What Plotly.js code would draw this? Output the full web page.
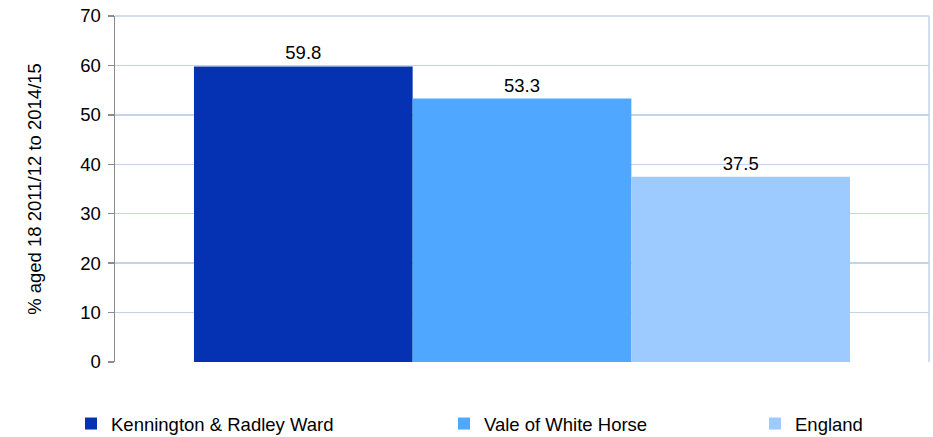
<!DOCTYPE html>
<html>
<head>
<meta charset="utf-8">
<script src="https://cdn.plot.ly/plotly-3.0.1.min.js"></script>
<style>html,body{margin:0;padding:0;background:#fff}#chart{width:933px;height:437px}</style>
</head>
<body>
<div id="chart"></div>
<script>
const seriesNames = ["Kennington & Radley Ward", "Vale of White Horse", "England"];
const seriesValues = [59.8, 53.3, 37.5];
const seriesColors = ["#0432B2", "#4FA7FF", "#9DCAFF"];
const category = [""];
const yTicks = [0, 10, 20, 30, 40, 50, 60, 70];
const yTitle = "% aged 18 2011/12 to 2014/15";

const FONT = "Liberation Sans, Arial, sans-serif";
const FS = 18.5;
const legendIds = ["legend", "legend2", "legend3"];
const legendX = [71, 444, 755];

const traces = seriesNames.map((n, i) => ({
  type: "bar",
  name: n,
  x: category,
  y: [seriesValues[i]],
  marker: {color: seriesColors[i], line: {width: 0}},
  text: [seriesValues[i].toFixed(1)],
  textposition: "outside",
  cliponaxis: false,
  textfont: {family: FONT, size: FS, color: "#000"},
  legend: legendIds[i],
  hoverinfo: "none"
}));

const L = 115, R = 929, T = 16, B = 362;
const W = 933, H = 437;
const pw = R - L, ph = B - T;

const layout = {
  width: W, height: H,
  margin: {l: L, r: W - R, t: T, b: H - B, autoexpand: false},
  paper_bgcolor: "#fff", plot_bgcolor: "#fff",
  font: {family: FONT, size: FS, color: "#000"},
  barmode: "group",
  bargap: 0.194,
  bargroupgap: 0,
  showlegend: true,
  xaxis: {showticklabels: false, showgrid: false, zeroline: false, showline: false, ticks: "", fixedrange: true, automargin: false},
  yaxis: {
    range: [0, 70], tickvals: yTicks, ticktext: yTicks.map(String),
    showgrid: true, gridcolor: "#C3D3EA", gridwidth: 1.5,
    zeroline: false, automargin: false,
    showline: true, linecolor: "#8C8C8C", linewidth: 1.5,
    ticks: "outside", ticklen: 6, tickcolor: "#8C8C8C", tickwidth: 1.5,
    ticklabelstandoff: 3,
    tickfont: {family: FONT, size: FS, color: "#000"},
    title: {text: yTitle, font: {family: FONT, size: FS, color: "#000"}, standoff: 33}
  },
  shapes: [
    {type: "line", xref: "paper", yref: "paper", x0: 1, x1: 1, y0: 0, y1: 1, line: {color: "#C3D3EA", width: 1.5}},
    {type: "line", xref: "paper", yref: "paper", x0: 0, x1: 1, y0: 1, y1: 1, line: {color: "#C3D3EA", width: 1.5}}
  ]
};
legendIds.forEach((id, i) => {
  layout[id] = {
    orientation: "h",
    x: (legendX[i] - L) / pw, xanchor: "left",
    y: (B - 424) / ph, yanchor: "middle",
    font: {family: FONT, size: FS, color: "#000"},
    bgcolor: "rgba(0,0,0,0)", borderwidth: 0
  };
});

Plotly.newPlot("chart", traces, layout, {displayModeBar: false, staticPlot: true});
</script>
</body>
</html>
